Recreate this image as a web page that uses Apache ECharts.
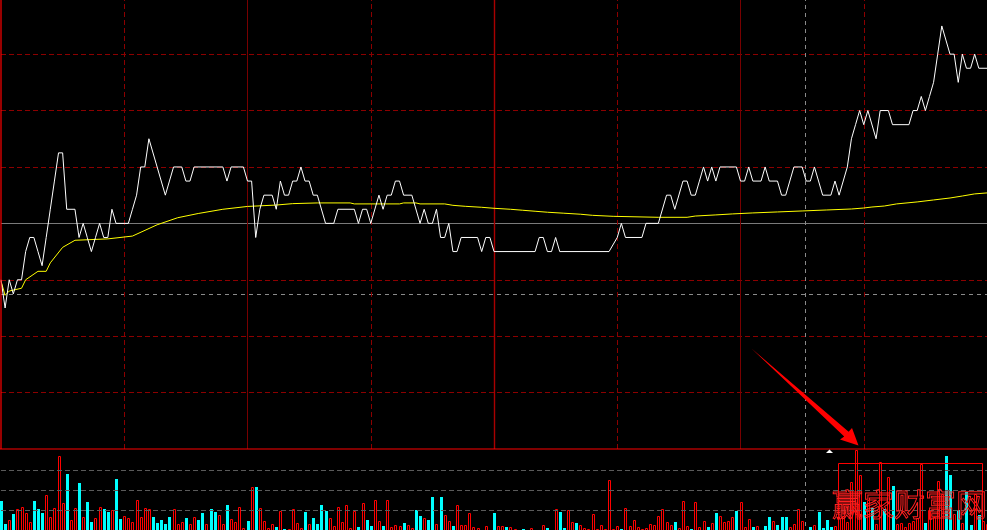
<!DOCTYPE html>
<html><head><meta charset="utf-8">
<script src="https://cdn.jsdelivr.net/npm/echarts@6.0.0/dist/echarts.min.js"></script>
<style>html,body{margin:0;padding:0;background:#000000;}#c{width:987px;height:530px;background:#000000;}</style>
</head><body><div id="c"></div>
<script>
// ---- data (minute index 0..240 from 09:30) ----
const prevClose = 10.00;
const priceAxisMin = 9.84;
const priceAxisMax = 10.1584;
const priceMin = [0,1,2,3,4,5,6,7,8,9,10,11,12,13,14,15,16,18,19,20,21,22,23,24,25,26,27,28,31,32,33,34,35,36,40,42,44,45,46,47,54,55,56,59,60,61,62,63,64,66,67,68,69,70,71,72,73,74,75,76,77,79,81,82,86,87,88,89,90,92,93,94,95,96,97,98,100,102,103,104,105,106,107,108,109,110,111,112,116,117,118,119,120,130,131,132,133,134,135,136,148,150,151,152,156,157,160,162,163,164,166,167,168,169,170,171,172,173,174,175,179,180,181,182,183,185,186,187,189,190,191,193,195,196,197,198,200,202,203,204,206,207,208,209,210,211,213,214,216,217,221,222,223,224,225,226,227,228,229,230,231,232,233,234,235,236,237,238,240];
const priceVal = [9.96,9.94,9.96,9.95,9.96,9.96,9.98,9.99,9.99,9.98,9.97,9.99,10.01,10.03,10.05,10.05,10.01,10.01,9.99,10.00,9.99,9.98,9.99,10.00,9.99,9.99,10.01,10.00,10.00,10.01,10.02,10.04,10.04,10.06,10.02,10.04,10.04,10.03,10.03,10.04,10.04,10.03,10.04,10.04,10.03,10.03,9.99,10.01,10.02,10.02,10.01,10.03,10.02,10.02,10.03,10.03,10.04,10.03,10.03,10.02,10.02,10.00,10.00,10.01,10.01,10.00,10.01,10.01,10.00,10.02,10.01,10.02,10.02,10.03,10.03,10.02,10.02,10.00,10.01,10.00,10.00,10.01,9.99,9.99,10.00,9.98,9.98,9.99,9.99,9.98,9.99,9.99,9.98,9.98,9.99,9.99,9.98,9.98,9.99,9.98,9.98,9.99,10.00,9.99,9.99,10.00,10.00,10.02,10.02,10.01,10.03,10.03,10.02,10.02,10.03,10.04,10.03,10.04,10.03,10.04,10.04,10.03,10.03,10.04,10.03,10.03,10.04,10.03,10.03,10.02,10.02,10.04,10.04,10.03,10.03,10.04,10.02,10.02,10.03,10.02,10.04,10.06,10.07,10.08,10.07,10.08,10.06,10.08,10.08,10.07,10.07,10.08,10.08,10.09,10.08,10.09,10.10,10.12,10.14,10.13,10.12,10.12,10.10,10.12,10.11,10.11,10.12,10.11,10.11];
const avgMin = [0,1,2,5,6,9,11,12,15,18,26,32,38,43,48,54,60,67,71,77,85,86,97,98,101,102,108,110,113,117,120,124,127,130,133,137,141,144,149,160,167,169,174,178,183,189,195,201,207,210,212,215,218,223,227,231,234,237,240];
const avgVal = [9.959,9.949,9.952,9.954,9.960,9.966,9.966,9.972,9.983,9.988,9.989,9.991,9.999,10.004,10.007,10.010,10.012,10.013,10.014,10.0145,10.0145,10.0138,10.0138,10.0145,10.0145,10.0138,10.0138,10.0128,10.0121,10.0114,10.0107,10.0100,10.0093,10.0086,10.0079,10.0072,10.0065,10.0057,10.0050,10.0043,10.0043,10.0052,10.0060,10.0067,10.0074,10.0081,10.0088,10.0095,10.0102,10.0109,10.0116,10.0123,10.0138,10.0152,10.0166,10.0180,10.0194,10.0209,10.0216];
const volume = [
2.45,1.3,1.5,1.8,2.03,2.13,1.83,1.4,2.45,2.05,1.85,2.73,1.63,2.1,4.7,2.35,3.8,1.5,2.1,3.35,
1.65,2.4,1.4,1.6,2.15,2.05,1.9,2.0,3.55,1.55,1.7,1.6,1.4,2.5,1.65,2.1,2.05,1.65,1.35,1.5,
1.3,1.65,2.05,1.3,1.4,1.6,1.3,1.65,1.5,1.85,1.3,2.05,1.9,1.75,1.3,2.25,1.55,1.4,2.15,1.1,
1.45,3.15,3.15,2.1,1.45,1.1,1.3,1.15,1.95,1.05,1.05,2.05,1.35,1.1,1.9,1.3,1.6,1.3,2.25,1.95,
1.6,1.2,2.15,1.4,2.25,1.1,1.95,1.15,2.35,1.5,1.2,2.5,1.45,1.2,2.5,1.15,1.25,1.2,1.35,1.25,
1.1,2.0,1.7,1.6,1.5,2.65,1.3,2.65,1.75,1.45,1.2,2.25,1.25,1.25,1.85,1.15,1.1,0.8,1.2,0.8,
1.85,1.2,1.2,1.15,1.15,1.05,0.8,1.05,0.8,1.1,0.8,0.8,1.25,1.1,0.8,2.05,1.9,1.1,2.0,1.4,
1.35,1.25,1.1,1.05,1.8,1.05,1.25,1.05,3.5,1.05,1.2,1.05,2.1,1.2,1.5,1.15,1.05,1.1,1.3,1.25,
1.7,2.05,1.4,1.25,1.4,1.1,2.45,1.2,1.05,2.4,1.15,1.45,1.15,1.35,1.85,1.7,1.4,1.45,1.65,1.95,
2.4,1.15,1.55,1.15,1.2,0.8,1.2,1.65,1.45,1.25,1.65,1.65,1.15,1.3,2.05,1.45,0.8,1.15,1.25,1.9,
1.1,1.5,1.15,1.2,1.6,1.7,1.4,3.4,5.0,3.75,2.4,2.5,2.1,1.3,4.4,2.05,3.65,3.2,1.3,1.35,
1.15,1.35,1.45,1.6,4.3,1.35,2.0,1.67,3.45,2.8,4.7,3.75,1.8,2.0,1.35,2.9,1.25,2.8,1.75,1.45,
1.3];
const volDir = [
-1,-1,1,-1,1,1,1,1,-1,-1,-1,1,1,1,1,1,-1,1,1,-1,
1,-1,-1,1,1,-1,-1,1,-1,-1,1,1,1,1,1,1,1,-1,-1,-1,
-1,-1,1,1,1,-1,1,1,-1,-1,1,-1,-1,1,1,-1,1,1,1,1,
-1,1,-1,1,1,1,1,-1,1,-1,1,1,1,1,-1,1,-1,-1,-1,-1,
1,1,1,1,1,1,1,-1,1,-1,-1,1,1,-1,1,1,1,1,-1,1,
1,-1,-1,1,-1,-1,1,-1,1,1,-1,1,1,1,1,1,1,1,1,-1,
-1,1,1,-1,1,1,1,-1,-1,1,1,-1,1,-1,1,1,-1,-1,1,1,
-1,1,1,1,1,1,1,1,1,1,1,-1,1,1,1,1,1,1,1,1,
1,1,1,1,-1,1,1,1,-1,1,1,1,-1,1,-1,1,1,1,1,-1,
1,1,1,-1,1,1,-1,-1,1,-1,-1,-1,1,1,1,1,1,-1,1,-1,
-1,-1,-1,1,1,1,1,1,1,1,-1,1,-1,1,1,-1,1,-1,1,1,
1,1,1,1,1,-1,1,1,1,1,-1,-1,1,-1,1,-1,-1,1,-1,1,
1];
const priceGridLevels = [9.88, 9.92, 9.96, 10.04, 10.08, 10.12];
const timeDashed = [30, 90, 150, 210];
const timeSolid = [60, 180];
const timeMid = [120];
const cursorMin = 195.7;
const cursorPrice = 9.951;
const volGridLevels = [2, 3, 4];

const chart = echarts.init(document.getElementById('c'), null, {renderer: 'canvas'});
const dRed = '#8c0000';
const mlMain = [];
priceGridLevels.forEach(v => mlMain.push({yAxis: v, lineStyle: {color: dRed, type: [5, 3], width: 1}}));
mlMain.push({yAxis: prevClose, lineStyle: {color: '#7a7a7a', type: 'solid', width: 1}});
mlMain.push({yAxis: cursorPrice, lineStyle: {color: '#8a8a8a', type: [4, 4], width: 1}});
timeDashed.forEach(v => mlMain.push({xAxis: v, lineStyle: {color: dRed, type: [5, 3], width: 1}}));
timeSolid.forEach(v => mlMain.push({xAxis: v, lineStyle: {color: '#780000', type: 'solid', width: 1}}));
timeMid.forEach(v => mlMain.push({xAxis: v, lineStyle: {color: '#a80000', type: 'solid', width: 1.4}}));
mlMain.push({xAxis: cursorMin, lineStyle: {color: '#8a8a8a', type: [4, 4], width: 1}});
const mlVol = [];
volGridLevels.forEach(v => mlVol.push({yAxis: v, lineStyle: {color: '#5a5a5a', type: [5, 3], width: 1}}));
mlVol.push({xAxis: cursorMin, lineStyle: {color: '#8a8a8a', type: [4, 4], width: 1}});

chart.setOption({
  backgroundColor: '#000000',
  animation: false,
  grid: [
    {left: 1, right: 0, top: 0, height: 449, show: false, outerBoundsMode: 'none'},
    {left: 1, right: 0, top: 450, height: 100, show: false, outerBoundsMode: 'none'}
  ],
  xAxis: [
    {type: 'value', gridIndex: 0, min: 0, max: 240, show: false, splitLine: {show: false}},
    {type: 'value', gridIndex: 1, min: 0, max: 240, show: false, splitLine: {show: false}}
  ],
  yAxis: [
    {type: 'value', gridIndex: 0, min: priceAxisMin, max: priceAxisMax, show: false, splitLine: {show: false}},
    {type: 'value', gridIndex: 1, min: 0, max: 5, show: false, splitLine: {show: false}}
  ],
  series: [
    {
      type: 'line', xAxisIndex: 0, yAxisIndex: 0, z: 5,
      data: avgMin.map((m, i) => [m, avgVal[i]]),
      showSymbol: false, silent: true,
      lineStyle: {color: '#ffff00', width: 1}
    },
    {
      type: 'line', xAxisIndex: 0, yAxisIndex: 0, z: 6,
      data: priceMin.map((m, i) => [m, priceVal[i]]),
      showSymbol: false, silent: true,
      lineStyle: {color: '#ffffff', width: 1},
      markLine: {silent: true, symbol: 'none', label: {show: false}, animation: false, z: 1, data: mlMain}
    },
    {
      type: 'custom', xAxisIndex: 1, yAxisIndex: 1, z: 4,
      data: volume.map((v, i) => [i, v, volDir[i]]),
      encode: {x: 0, y: 1},
      renderItem: function (params, api) {
        const p = api.coord([api.value(0), api.value(1)]);
        const b = api.coord([api.value(0), 0]);
        const cx = Math.round(p[0]);
        const top = Math.round(p[1]);
        if (api.value(2) > 0) {
          return {type: 'rect', shape: {x: cx - 0.5, y: top + 0.5, width: 2, height: b[1] - top},
            style: {fill: '#000', stroke: '#ff0000', lineWidth: 1}};
        }
        return {type: 'rect', shape: {x: cx - 1, y: top, width: 3, height: b[1] - top},
          style: {fill: '#00ffff'}};
      }
    },
    {
      type: 'line', xAxisIndex: 1, yAxisIndex: 1, data: [], silent: true,
      markLine: {silent: true, symbol: 'none', label: {show: false}, animation: false, data: mlVol}
    }
  ]
});

// frame (left and bottom border) from the axis scales
const c0 = chart.convertToPixel({gridIndex: 0}, [0, priceAxisMin]);
const c1 = chart.convertToPixel({gridIndex: 0}, [240, priceAxisMax]);
const bx = Math.round(c0[0]);
const by = Math.round(c0[1]);
chart.setOption({
  graphic: [
    {type: 'line', z: 90, shape: {x1: bx, y1: c1[1], x2: bx, y2: by}, style: {stroke: '#ff0000', lineWidth: 1.2}},
    {type: 'line', z: 90, shape: {x1: 0, y1: by, x2: 987, y2: by}, style: {stroke: '#ff0000', lineWidth: 1.2}},
    {type: 'polygon', z: 100, shape: {points: [[751.5, 348.5], [848.6, 431.8], [852, 428], [858.5, 445.5], [840, 439.5], [844.2, 436.4]]},
      style: {fill: '#ff0000'}},
    {type: 'polygon', z: 100, shape: {points: [[826, 453], [833, 453], [829.5, 449.5]]}, style: {fill: '#ffffff'}},
    {type: 'rect', z: 100, shape: {x: 838.5, y: 463.5, width: 144, height: 80}, style: {fill: 'none', stroke: '#ff0000', lineWidth: 1}},
    {type: 'text', z: 101, x: 832, y: 489, style: {text: '赢家财富网', font: '31px "Noto Sans CJK SC"', fill: 'rgba(0,0,0,0)', stroke: '#ff2020', lineWidth: 1}}
  ]
});
</script>
</body></html>
